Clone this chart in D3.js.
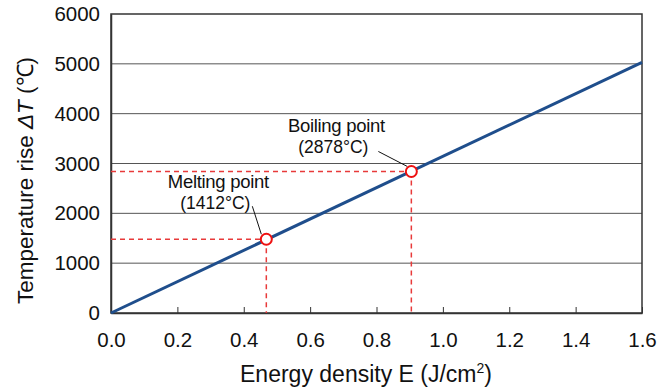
<!DOCTYPE html>
<html>
<head>
<meta charset="utf-8">
<script src="https://cdn.jsdelivr.net/npm/d3@7"></script>
<style>
  body { margin: 0; background: #fff; }
  svg { font-family: 'Liberation Sans', Arial, sans-serif; }
</style>
</head>
<body>
<svg id="chart" width="672" height="392"></svg>
<script>
// line endpoints (energy density, temperature rise)
const lineE = [0, 1.6];
const lineT = [0, 5030];

// marked points
const pointNames = ['Melting point', 'Boiling point'];
const pointLabels = ['(1412°C)', '(2878°C)'];
const pointE = [0.468, 0.905];
const pointT = [1480, 2840];

const xTicks = [0, 0.2, 0.4, 0.6, 0.8, 1.0, 1.2, 1.4, 1.6];
const yTicks = [0, 1000, 2000, 3000, 4000, 5000, 6000];

const margin = {left: 111, right: 30, top: 14, bottom: 79};
const width = 672, height = 392;
const font = "'Liberation Sans', Arial, sans-serif";

const svg = d3.select('#chart');

const x = d3.scaleLinear().domain([0, 1.6]).range([margin.left, width - margin.right]);
const y = d3.scaleLinear().domain([0, 6000]).range([height - margin.bottom, margin.top]);

// gridlines
svg.append('g')
  .selectAll('line')
  .data(yTicks.filter((d) => d > 0 && d < 6000))
  .join('line')
  .attr('x1', x(0)).attr('x2', x(1.6))
  .attr('y1', (d) => y(d)).attr('y2', (d) => y(d))
  .attr('stroke', '#555').attr('stroke-width', 1);

// frame
svg.append('rect')
  .attr('x', x(0)).attr('y', y(6000))
  .attr('width', x(1.6) - x(0)).attr('height', y(0) - y(6000))
  .attr('fill', 'none').attr('stroke', '#333').attr('stroke-width', 1.5);

// x axis ticks (inside) and labels
const xAxis = svg.append('g')
  .attr('transform', `translate(0,${y(0)})`)
  .call(d3.axisBottom(x).tickValues(xTicks).tickSizeInner(-6).tickSizeOuter(0)
    .tickPadding(19).tickFormat(d3.format('.1f')));
xAxis.select('.domain').attr('stroke', '#333').attr('stroke-width', 1.5);
xAxis.selectAll('.tick line').attr('stroke', '#333');
xAxis.selectAll('text').attr('font-size', 20.5).attr('fill', '#111')
  .attr('font-family', font);

// y axis labels
const yAxis = svg.append('g')
  .attr('transform', `translate(${x(0)},0)`)
  .call(d3.axisLeft(y).tickValues(yTicks).tickSize(0).tickPadding(11)
    .tickFormat(d3.format('d')));
yAxis.select('.domain').attr('stroke', '#333').attr('stroke-width', 1.5);
yAxis.selectAll('text').attr('font-size', 20.5).attr('fill', '#111')
  .attr('font-family', font);

// red dashed guides
const guides = svg.append('g')
  .attr('stroke', '#e83a3a').attr('stroke-width', 1.5)
  .attr('stroke-dasharray', '5,4').attr('fill', 'none');
pointE.forEach((e, i) => {
  guides.append('line')
    .attr('x1', x(0)).attr('x2', x(e))
    .attr('y1', y(pointT[i])).attr('y2', y(pointT[i]));
  guides.append('line')
    .attr('x1', x(e)).attr('x2', x(e))
    .attr('y1', y(pointT[i])).attr('y2', y(0));
});

// main line
svg.append('path')
  .datum(lineE.map((e, i) => [e, lineT[i]]))
  .attr('fill', 'none')
  .attr('stroke', '#1f4e8c')
  .attr('stroke-width', 3)
  .attr('d', d3.line().x((d) => x(d[0])).y((d) => y(d[1])));

// leader lines
const leaders = [
  {dx1: -14, dy1: -33, dx2: -5, dy2: -5},
  {dx1: -33, dy1: -20, dx2: -4, dy2: -5},
];
pointE.forEach((e, i) => {
  const px = x(e), py = y(pointT[i]);
  svg.append('line')
    .attr('x1', px + leaders[i].dx1).attr('y1', py + leaders[i].dy1)
    .attr('x2', px + leaders[i].dx2).attr('y2', py + leaders[i].dy2)
    .attr('stroke', '#111').attr('stroke-width', 1);
});

// markers
svg.append('g')
  .selectAll('circle')
  .data(pointE)
  .join('circle')
  .attr('cx', (d) => x(d))
  .attr('cy', (d, i) => y(pointT[i]))
  .attr('r', 5.5)
  .attr('fill', '#fff')
  .attr('stroke', '#ee1111')
  .attr('stroke-width', 2);

// annotation text
const labelPos = [
  {dx: -48, dy: -51},
  {dx: -75, dy: -39},
];
pointE.forEach((e, i) => {
  const px = x(e) + labelPos[i].dx, py = y(pointT[i]) + labelPos[i].dy;
  svg.append('text')
    .attr('x', px).attr('y', py)
    .attr('text-anchor', 'middle').attr('font-size', 18.5).attr('fill', '#111')
    .attr('letter-spacing', -0.3)
    .text(pointNames[i]);
  svg.append('text')
    .attr('x', px - 3).attr('y', py + 21)
    .attr('text-anchor', 'middle').attr('font-size', 17.5).attr('fill', '#111')
    .text(pointLabels[i]);
});

// axis titles
svg.append('text')
  .attr('x', 366).attr('y', 382)
  .attr('text-anchor', 'middle').attr('font-size', 23).attr('fill', '#111')
  .call((t) => {
    t.append('tspan').text('Energy density E (J/cm');
    t.append('tspan').attr('font-size', 14).attr('dy', -9).text('2');
    t.append('tspan').attr('dy', 9).text(')');
  });

svg.append('text')
  .attr('transform', `translate(33,${(y(0) + y(6000)) / 2 + 17}) rotate(-90)`)
  .attr('text-anchor', 'middle').attr('font-size', 22.5).attr('fill', '#111')
  .call((t) => {
    t.append('tspan').text('Temperature rise ');
    t.append('tspan').attr('font-style', 'italic').text('ΔT');
    t.append('tspan').text(' (℃)');
  });
</script>
</body>
</html>
